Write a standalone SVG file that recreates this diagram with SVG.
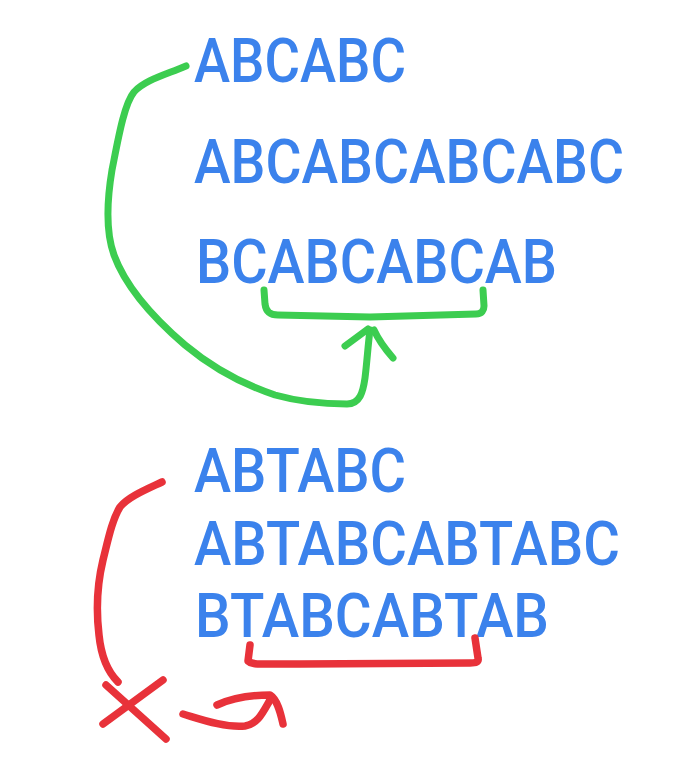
<svg xmlns="http://www.w3.org/2000/svg" width="695" height="775" viewBox="0 0 695 775">
  <style>
    .t { font-family: Roboto, "Liberation Sans", sans-serif; font-size: 61px; font-weight: 500; fill: #3b82ec; }
    .g { fill: none; stroke: #3ccd50; stroke-width: 7; stroke-linecap: round; stroke-linejoin: round; }
    .r { fill: none; stroke: #e8323a; stroke-width: 7.5; stroke-linecap: round; stroke-linejoin: round; }
  </style>
  <rect width="695" height="775" fill="#ffffff"/>
  <g id="line1"><text class="t" x="194" y="82" textLength="212" lengthAdjust="spacingAndGlyphs">ABCABC</text></g>
  <g id="line2"><text class="t" x="194" y="183" textLength="430" lengthAdjust="spacingAndGlyphs">ABCABCABCABC</text></g>
  <g id="line3"><text class="t" x="196" y="283" textLength="361" lengthAdjust="spacingAndGlyphs">BCABCABCAB</text></g>
  <g id="line4"><text class="t" x="194" y="492" textLength="212" lengthAdjust="spacingAndGlyphs">ABTABC</text></g>
  <g id="line5"><text class="t" x="194" y="565" textLength="426" lengthAdjust="spacingAndGlyphs">ABTABCABTABC</text></g>
  <g id="line6"><text class="t" x="195" y="637" textLength="354" lengthAdjust="spacingAndGlyphs">BTABCABTAB</text></g>
  <g id="connectors">
    <path class="g" d="M186,66 C165,75 145,80 134,92 C124,104 118,140 112,170 C107,200 105,230 114,255 C125,285 150,315 185,345 C215,370 245,385 275,395 C300,402 330,404 347,404 C360,404 363,392 365,378 C367,362 368,345 370,330"/>
    <path class="g" d="M345,346 L368,329"/>
    <path class="g" d="M374,330 C379,341 386,350 393,358"/>
    <path class="g" d="M264,290 L265,304 C266,312 270,315 278,315 L370,317 L476,314 C482,314 484,310 484,306 L483,290"/>
    <path class="r" d="M162,482 C145,490 128,497 120,507 C112,520 108,540 103,560 C97,585 96,610 99,635 C101,655 106,670 118,682"/>
    <path class="r" d="M106,685 L166,739"/>
    <path class="r" d="M163,680 L103,724"/>
    <path class="r" d="M183,714 C200,719 225,728 245,726 C258,724 263,712 270,700"/>
    <path class="r" d="M217,705 C230,699 250,695 270,695 C278,700 281,715 283,724"/>
    <path class="r" d="M250,645 L248,661 C251,664 256,664 262,664 L300,664 L470,663 C476,663 479,662 478,658 L475,638"/>
  </g>
</svg>
